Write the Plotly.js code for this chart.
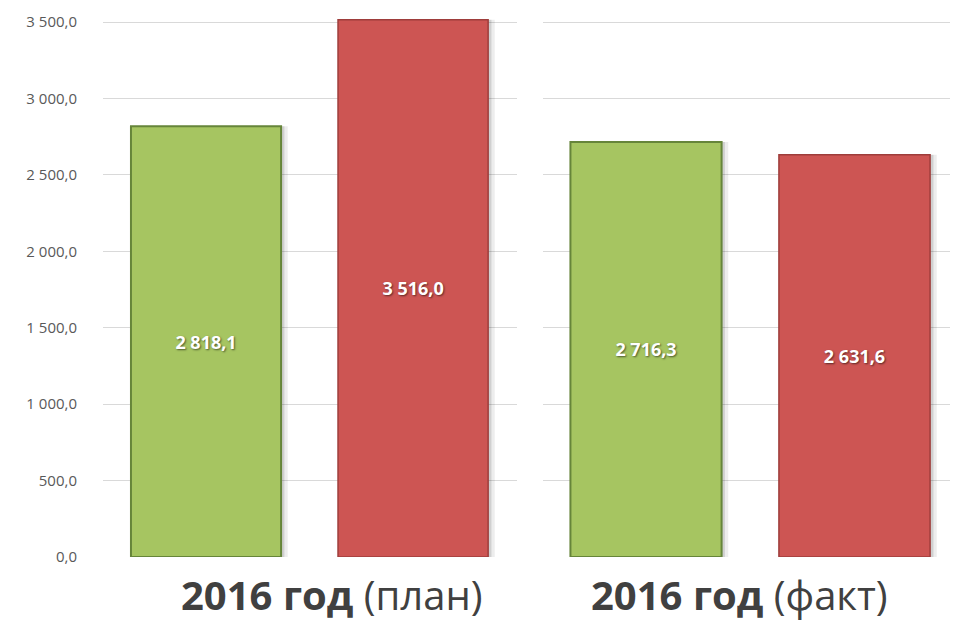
<!DOCTYPE html>
<html>
<head>
<meta charset="utf-8">
<script src="https://cdn.plot.ly/plotly-3.0.1.min.js"></script>
<style>html,body{margin:0;padding:0;background:#fff;}#chart{width:954px;height:622px;}</style>
</head>
<body>
<div id="chart"></div>
<script>
const groups = ['2016 год', '2016 год'];
const groupNotes = ['(план)', '(факт)'];
const greenValues = [2818.1, 2716.3];
const redValues = [3516.0, 2631.6];
const tickValues = [0, 500, 1000, 1500, 2000, 2500, 3000, 3500];

function fmt(v) {
  const parts = v.toFixed(1).split('.');
  const intPart = parts[0].replace(/\B(?=(\d{3})+(?!\d))/g, ' ');
  return intPart + ',' + parts[1];
}
const tickText = tickValues.map(fmt);

const GREEN = '#a6c561';
const RED = '#cd5553';
const GREEN_LINE = '#66853a';
const RED_LINE = '#9e3d3b';
const BAR_W = 0.725;

const traces = [];
[0, 1].forEach(i => {
  const xa = i === 0 ? 'x' : 'x2';
  const ya = i === 0 ? 'y' : 'y2';
  const vals = [greenValues[i], redValues[i]];
  // soft shadow layers
  [[0.07, 0.032], [0.12, 0.016]].forEach(([a, dx]) => {
    traces.push({
      type: 'bar', x: [0, 1], y: vals, xaxis: xa, yaxis: ya,
      width: BAR_W, offset: -BAR_W / 2 + dx,
      marker: {color: 'rgba(0,0,0,' + a + ')', line: {width: 0}},
      hoverinfo: 'skip', showlegend: false
    });
  });
  traces.push({
    type: 'bar',
    x: [0, 1],
    y: vals,
    xaxis: xa,
    yaxis: ya,
    width: BAR_W,
    offset: -BAR_W / 2,
    marker: {
      color: [GREEN, RED],
      line: {color: [GREEN_LINE, RED_LINE], width: [2, 1.5]}
    },
    text: vals.map(fmt),
    textposition: 'inside',
    insidetextanchor: 'middle',
    textangle: 0,
    textfont: {family: 'Open Sans, sans-serif', size: 18, color: '#ffffff', weight: 'bold',
               shadow: '1px 1px 2px rgba(0,0,0,0.55)'},
    hoverinfo: 'skip',
    showlegend: false
  });
});

const yCommon = {
  range: [0, 3540],
  tickvals: tickValues,
  ticktext: tickText,
  showgrid: true,
  gridcolor: '#d9d9d9',
  gridwidth: 1,
  zeroline: false,
  showline: false,
  fixedrange: true
};

const layout = {
  width: 954,
  height: 622,
  margin: {l: 103, r: 4, t: 16, b: 65},
  paper_bgcolor: '#ffffff',
  plot_bgcolor: '#ffffff',
  barmode: 'overlay',
  font: {family: 'Open Sans, sans-serif', color: '#595959'},
  xaxis: {domain: [0, 0.4888], range: [-0.4976, 1.502], showticklabels: false, showgrid: false,
          zeroline: false, showline: false, ticks: '', fixedrange: true},
  xaxis2: {domain: [0.5195, 1], range: [-0.494, 1.458], showticklabels: false, showgrid: false,
           zeroline: false, showline: false, ticks: '', fixedrange: true, anchor: 'y2'},
  yaxis: Object.assign({}, yCommon, {
    anchor: 'x',
    ticks: 'outside', ticklen: 22, tickcolor: 'rgba(0,0,0,0)',
    tickfont: {family: 'Open Sans, sans-serif', size: 15, color: '#595959'}
  }),
  yaxis2: Object.assign({}, yCommon, {anchor: 'x2', showticklabels: false, ticks: ''}),
  annotations: [0, 1].map(i => ({
    xref: 'paper', yref: 'paper',
    x: i === 0 ? 0.2704 : 0.752,
    y: 0, yanchor: 'middle', xanchor: 'center', yshift: -37,
    showarrow: false, borderpad: 0,
    text: '<b>' + groups[i] + '</b> ' + groupNotes[i],
    font: {family: 'Open Sans, sans-serif', size: 40, color: '#404040'}
  }))
};

Plotly.newPlot('chart', traces, layout, {displayModeBar: false, staticPlot: true});
</script>
</body>
</html>
